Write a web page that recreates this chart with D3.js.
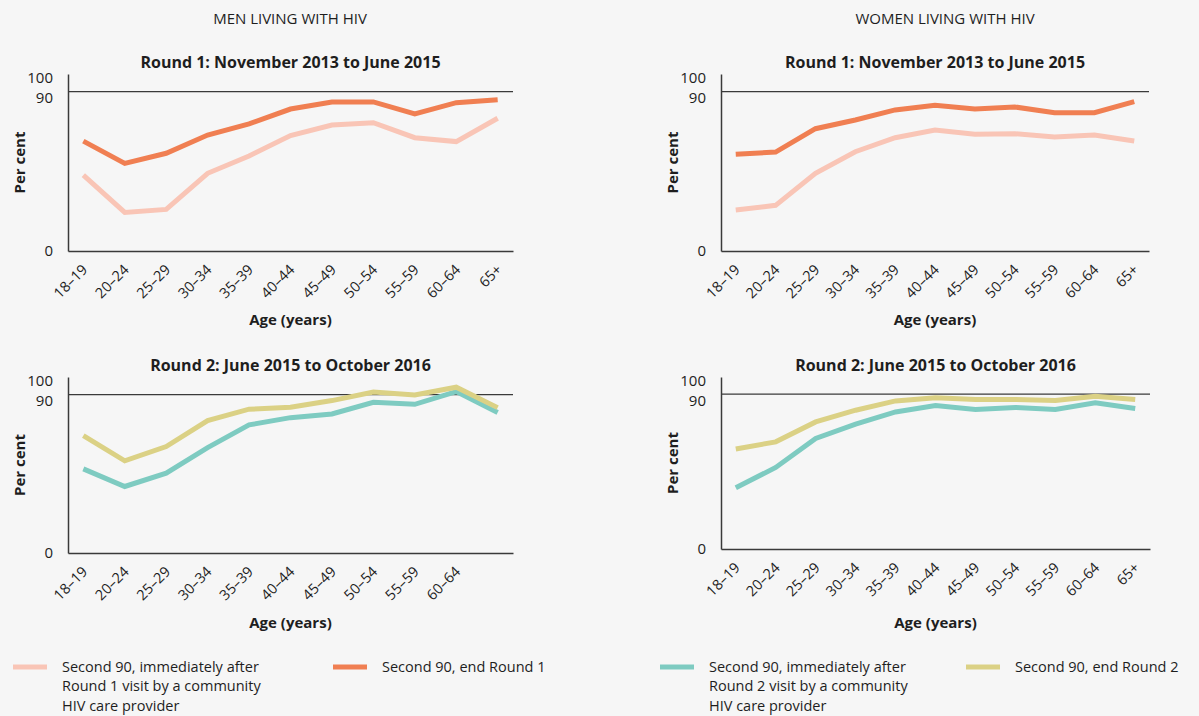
<!DOCTYPE html>
<html>
<head>
<meta charset="utf-8">
<script src="https://cdn.jsdelivr.net/npm/d3@7/dist/d3.min.js"></script>
<style>
  html, body { margin: 0; padding: 0; background: #f6f6f6; }
  svg { display: block; font-family: "Open Sans", Lato, sans-serif; }
</style>
</head>
<body>
<svg id="chart" width="1199" height="716"></svg>
<script>
// Age groups along the x axis
const ageGroups = ["18–19", "20–24", "25–29", "30–34", "35–39", "40–44", "45–49", "50–54", "55–59", "60–64", "65+"];
// Men's Round 2 panel carries no label under its last point
const menRound2TickLabels = ["18–19", "20–24", "25–29", "30–34", "35–39", "40–44", "45–49", "50–54", "55–59", "60–64", ""];
const yTicks = [0, 90, 100];

// Second 90 (per cent), men
const menR1After = [42.9, 21.8, 23.5, 43.9, 53.7, 65.2, 71.2, 72.5, 64.0, 61.8, 75.0];
const menR1End   = [62.1, 49.5, 55.2, 65.5, 71.8, 80.2, 84.2, 84.2, 77.4, 83.8, 85.5];
const menR2After = [47.8, 37.8, 45.4, 59.9, 72.8, 76.9, 79.0, 85.6, 84.5, 91.7, 79.8];
const menR2End   = [66.7, 52.4, 60.5, 75.2, 81.7, 82.8, 86.6, 91.5, 89.8, 94.2, 82.6];

// Second 90 (per cent), women
const womenR1After = [23.2, 25.8, 43.9, 56.1, 64.0, 68.4, 65.9, 66.3, 64.4, 65.5, 62.1];
const womenR1End   = [54.6, 55.9, 69.1, 74.0, 79.7, 82.3, 80.2, 81.4, 78.1, 78.1, 84.4];
const womenR2After = [35.6, 47.4, 64.3, 72.6, 79.7, 83.4, 81.1, 82.3, 81.1, 85.0, 81.7];
const womenR2End   = [58.1, 62.3, 73.9, 80.7, 86.1, 87.9, 86.9, 86.9, 86.3, 88.8, 86.9];

const target = 90;

const colors = {
  r1After: "#f9c5b6",
  r1End:   "#f07f52",
  r2After: "#7ecbc1",
  r2End:   "#dbd185"
};

const legendItems = [
  { label: ["Second 90, immediately after", "Round 1 visit by a community", "HIV care provider"], color: colors.r1After, x: 13 },
  { label: ["Second 90, end Round 1"], color: colors.r1End, x: 333 },
  { label: ["Second 90, immediately after", "Round 2 visit by a community", "HIV care provider"], color: colors.r2After, x: 660 },
  { label: ["Second 90, end Round 2"], color: colors.r2End, x: 966 }
];

const panels = [
  { title: "Round 1: November 2013 to June 2015", x0: 68, x1: 513, y0: 251, y1: 74, xTitleY: 325, ticks: ageGroups,
    series: [{ v: menR1After, c: colors.r1After }, { v: menR1End, c: colors.r1End }] },
  { title: "Round 1: November 2013 to June 2015", x0: 721, x1: 1149, y0: 251, y1: 74, xTitleY: 325, ticks: ageGroups,
    series: [{ v: womenR1After, c: colors.r1After }, { v: womenR1End, c: colors.r1End }] },
  { title: "Round 2: June 2015 to October 2016", x0: 68, x1: 513, y0: 553, y1: 377, xTitleY: 628, ticks: menRound2TickLabels,
    series: [{ v: menR2After, c: colors.r2After }, { v: menR2End, c: colors.r2End }] },
  { title: "Round 2: June 2015 to October 2016", x0: 721, x1: 1150, y0: 549, y1: 377, xTitleY: 628, ticks: ageGroups,
    series: [{ v: womenR2After, c: colors.r2After }, { v: womenR2End, c: colors.r2End }] }
];

const svg = d3.select("#chart");
const ink = "#1e1e1e";

// Column headers
svg.append("text").attr("x", 290).attr("y", 18).attr("text-anchor", "middle")
  .attr("dominant-baseline", "central").attr("font-size", 15)
  .attr("fill", ink).text("MEN LIVING WITH HIV");
svg.append("text").attr("x", 945).attr("y", 18).attr("text-anchor", "middle")
  .attr("dominant-baseline", "central").attr("font-size", 15)
  .attr("fill", ink).text("WOMEN LIVING WITH HIV");

panels.forEach(p => {
  const g = svg.append("g");
  const x = d3.scalePoint().domain(ageGroups).range([p.x0, p.x1]).padding(0.37);
  const y = d3.scaleLinear().domain([0, 100]).range([p.y0, p.y1]);
  const cx = (p.x0 + p.x1) / 2;

  // Title
  g.append("text").attr("x", cx).attr("y", p.y1 - 6).attr("text-anchor", "middle")
    .attr("font-size", 16).attr("font-weight", 700).attr("fill", ink).text(p.title);

  // 90 per cent reference line
  g.append("line").attr("x1", p.x0).attr("x2", p.x1).attr("y1", y(target)).attr("y2", y(target))
    .attr("stroke", "#3a3a3a").attr("stroke-width", 1.3);

  // Y axis
  const yAxis = g.append("g").attr("transform", `translate(${p.x0},0)`)
    .call(d3.axisLeft(y).tickValues(yTicks).tickSize(0).tickPadding(15).tickSizeOuter(0));
  yAxis.select(".domain").attr("stroke", "#3a3a3a").attr("stroke-width", 1.5);
  yAxis.selectAll("text").attr("font-size", 15).attr("fill", ink)
    .attr("font-family", "'Open Sans', sans-serif")
    .attr("dy", d => d === 90 ? "0.75em" : d === 100 ? "0.55em" : "0.32em");

  // X axis
  const xAxis = g.append("g").attr("transform", `translate(0,${p.y0})`)
    .call(d3.axisBottom(x).tickSize(0).tickSizeOuter(0).tickFormat((d, i) => p.ticks[i]));
  xAxis.select(".domain").attr("stroke", "#3a3a3a").attr("stroke-width", 1.5);
  xAxis.selectAll(".tick text")
    .attr("font-size", 14.5).attr("fill", ink)
    .attr("font-family", "'Open Sans', sans-serif")
    .attr("text-anchor", "end")
    .attr("transform", "translate(1,16) rotate(-45)")
    .attr("x", 0).attr("y", 0).attr("dy", "0.35em");

  // Axis titles
  g.append("text").attr("x", cx).attr("y", p.xTitleY).attr("text-anchor", "middle")
    .attr("font-size", 15).attr("font-weight", 700).attr("fill", ink).text("Age (years)");
  g.append("text")
    .attr("transform", `translate(${p.x0 - 49},${(p.y0 + p.y1) / 2}) rotate(-90)`)
    .attr("text-anchor", "middle").attr("dominant-baseline", "central")
    .attr("font-size", 15).attr("font-weight", 700).attr("fill", ink).text("Per cent");

  // Series lines
  const line = d3.line().x((d, i) => x(ageGroups[i])).y(d => y(d));
  p.series.forEach(s => {
    g.append("path").datum(s.v).attr("d", line)
      .attr("fill", "none").attr("stroke", s.c).attr("stroke-width", 5);
  });
});

// Legend
const legend = svg.append("g");
legendItems.forEach(item => {
  legend.append("line").attr("x1", item.x).attr("x2", item.x + 34).attr("y1", 667).attr("y2", 667)
    .attr("stroke", item.color).attr("stroke-width", 5);
  const t = legend.append("text").attr("x", item.x + 49).attr("y", 667)
    .attr("font-size", 14.5).attr("fill", ink);
  item.label.forEach((l, i) => {
    t.append("tspan").attr("x", item.x + 49).attr("dy", i === 0 ? "0.35em" : 19.3).text(l);
  });
});
</script>
</body>
</html>
